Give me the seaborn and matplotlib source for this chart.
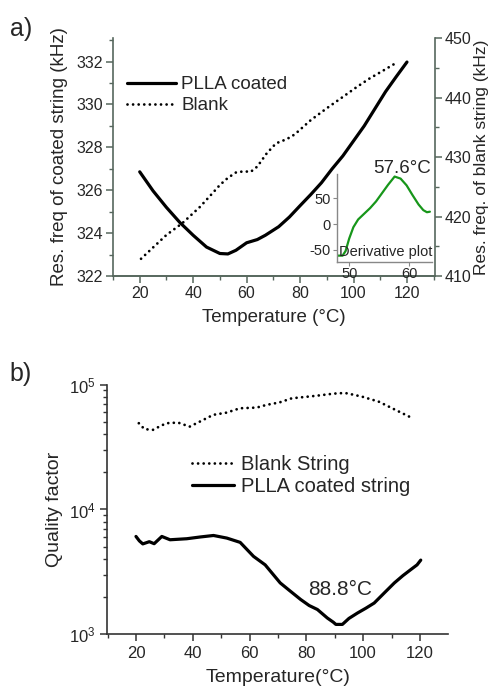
import numpy as np
import matplotlib
matplotlib.use('Agg')
import matplotlib.pyplot as plt
import matplotlib.ticker as mticker
import seaborn as sns

# a) resonance frequency vs temperature
coated_temp = [20, 25, 30, 35, 40, 45, 50, 53, 56, 60, 64, 67, 72, 76, 80, 84, 88, 92,
               96, 100, 104, 108, 112, 116, 120]
coated_freq = [326.86, 325.97, 325.2, 324.5, 323.9, 323.35, 323.05, 323.03, 323.2, 323.55,
               323.7, 323.9, 324.3, 324.75, 325.28, 325.8, 326.35, 327.0, 327.6, 328.3,
               329.0, 329.8, 330.6, 331.3, 331.98]
blank_temp = [20.5, 25, 30, 36, 42.5, 47, 50, 53, 56, 59, 61.5, 64, 67.5, 71, 75, 78, 84,
              90, 96, 101, 106, 111, 115.5]
blank_freq = [412.9, 414.8, 416.9, 418.9, 421.6, 423.8, 425.3, 426.5, 427.4, 427.6, 427.5,
              428.4, 430.6, 432.3, 433.0, 433.8, 436.2, 438.2, 440.1, 441.7, 443.2, 444.5,
              445.7]

# inset: derivative
deriv_temp = [48.0, 48.9, 49.4, 50.0, 50.7, 51.5, 52.5, 53.5, 54.5, 55.5, 56.5, 57.6, 58.6,
              59.6, 60.6, 61.6, 62.4, 63.0, 63.5]
deriv_val = [-61, -61, -52, -28, -6, 9, 20, 31, 44, 60, 76, 92, 88, 75, 56, 38, 27, 23, 24]

# b) quality factor vs temperature
q_blank_temp = [21, 23, 26, 28.5, 30.7, 34.8, 38.9, 42.5, 47.2, 51.9, 56.6, 62.5, 66, 70.5,
                74.9, 79, 83.1, 89, 91.5, 94.3, 99.6, 105.5, 111.4, 116.7]
q_blank = [49100, 44000, 43500, 46500, 49100, 49700, 46100, 50600, 57300, 59700, 64700,
           65500, 68900, 72000, 77800, 79500, 81300, 84400, 85500, 85300, 80200, 73100,
           62800, 54800]
q_coated_temp = [20, 21.2, 22.4, 24.7, 26.4, 27.8, 29.1, 32, 37.9, 42.6, 47.3, 52, 56.7,
                 61.4, 65.5, 70.8, 74, 78, 81, 83.9, 87.4, 89.5, 90.4, 92.7, 95, 98, 101,
                 103.9, 107.5, 111, 114, 116.8, 119, 120.3]
q_coated = [6080, 5600, 5300, 5520, 5320, 5700, 6080, 5720, 5830, 6020, 6190, 5900, 5450,
            4210, 3600, 2580, 2250, 1900, 1700, 1580, 1350, 1250, 1200, 1200, 1340, 1480,
            1620, 1780, 2150, 2580, 2950, 3300, 3600, 3930]

sns.set_style('ticks')
plt.rcParams['font.family'] = ['Liberation Sans', 'DejaVu Sans']
plt.rcParams['mathtext.fontset'] = 'custom'
plt.rcParams['mathtext.rm'] = 'Liberation Sans'
plt.rcParams['axes.unicode_minus'] = False

spine_top = '#56675d'
dotted = (0, (0.01, 2.0))

fig = plt.figure(figsize=(4.9, 6.89), dpi=100)

# ---------- panel a ----------
ax = fig.add_axes([0.2306, 0.5994, 0.6572, 0.3454])
ax2 = ax.twinx()
sns.lineplot(x=coated_temp, y=coated_freq, ax=ax, color='black', linewidth=2.3,
             estimator=None, sort=False)
sns.lineplot(x=blank_temp, y=blank_freq, ax=ax2, color='black', linewidth=2.0,
             linestyle=dotted, dash_capstyle='round', estimator=None, sort=False)
ax.set_xlim(10, 130.5)
ax.set_ylim(322, 333.1)
ax2.set_ylim(410, 450)
ax.set_yticks([322, 324, 326, 328, 330, 332])
ax2.set_yticks([410, 420, 430, 440, 450])
ax.set_xticks([20, 40, 60, 80, 100, 120])
ax.xaxis.set_minor_locator(mticker.MultipleLocator(10))
ax.yaxis.set_minor_locator(mticker.MultipleLocator(1))
ax2.yaxis.set_minor_locator(mticker.MultipleLocator(5))
for a in (ax, ax2):
    a.spines['top'].set_visible(False)
    for s in ('left', 'right', 'bottom'):
        a.spines[s].set_color(spine_top)
        a.spines[s].set_linewidth(1.2)
    a.tick_params(which='major', length=5, width=1.1, color=spine_top, labelsize=11.5,
                  pad=2)
    a.tick_params(which='minor', length=3, width=1.0, color=spine_top)
ax.spines['right'].set_visible(False)
ax2.spines['left'].set_visible(False)
ax.set_xlabel('Temperature (\u00b0C)', fontsize=13.5, labelpad=6)
ax.set_ylabel('Res. freq of coated string (kHz)', fontsize=13.5, labelpad=6)
ax2.set_ylabel('Res. freq. of blank string (kHz)', fontsize=12.5, labelpad=2)
h1 = ax.get_lines()[0]
h2 = ax2.get_lines()[0]
ax.legend([h1, h2], ['PLLA coated', 'Blank'], loc='upper left',
          bbox_to_anchor=(0.043, 0.84), frameon=False, fontsize=13.5, borderpad=0,
          borderaxespad=0, handlelength=2.6, handletextpad=0.3, labelspacing=0.2)
fig.text(0.02, 0.975, 'a)', fontsize=18, va='top')

# inset
axi = fig.add_axes([0.687, 0.6202, 0.194, 0.1273])
axi.patch.set_alpha(0)
sns.lineplot(x=deriv_temp, y=deriv_val, ax=axi, color='#17961a', linewidth=1.6,
             estimator=None, sort=False)
axi.set_xlim(47.9, 63.8)
axi.set_ylim(-72.7, 97)
axi.set_xticks([50, 60])
axi.set_yticks([-50, 0, 50])
for s in ('top', 'right'):
    axi.spines[s].set_visible(False)
for s in ('left', 'bottom'):
    axi.spines[s].set_color('#888888')
    axi.spines[s].set_linewidth(1.0)
axi.tick_params(length=3, width=0.8, color='#888888', labelsize=10.5, pad=1)
axi.text(1.01, 0.03, 'Derivative plot', transform=axi.transAxes, ha='right',
         va='bottom', fontsize=10.5)
axi.text(0.69, 0.97, '57.6\u00b0C', transform=axi.transAxes, ha='center',
         va='bottom', fontsize=13.5)

# ---------- panel b ----------
bx = fig.add_axes([0.219, 0.0794, 0.6953, 0.3623])
sns.lineplot(x=q_blank_temp, y=q_blank, ax=bx, color='black', linewidth=2.0,
             linestyle=dotted, dash_capstyle='round', estimator=None, sort=False)
sns.lineplot(x=q_coated_temp, y=q_coated, ax=bx, color='black', linewidth=2.3,
             estimator=None, sort=False)
bx.set_yscale('log')
bx.set_ylim(1e3, 1e5)
bx.set_xlim(9.9, 129.9)
bx.set_xticks([20, 40, 60, 80, 100, 120])
bx.xaxis.set_minor_locator(mticker.MultipleLocator(10))
for s in ('top', 'right'):
    bx.spines[s].set_visible(False)
for s in ('left', 'bottom'):
    bx.spines[s].set_color('#333333')
    bx.spines[s].set_linewidth(1.2)
bx.tick_params(which='major', length=5, width=1.1, color='#333333', labelsize=12)
bx.tick_params(which='minor', length=3, width=1.0, color='#333333')
bx.set_xlabel('Temperature(\u00b0C)', fontsize=14, labelpad=6)
bx.set_ylabel('Quality factor', fontsize=14, labelpad=4)
hb = bx.get_lines()
bx.legend([hb[0], hb[1]], ['Blank String', 'PLLA coated string'], loc='upper left',
          bbox_to_anchor=(0.248, 0.72), frameon=False, fontsize=14.5, borderpad=0,
          borderaxespad=0, handlelength=2.1, handletextpad=0.35, labelspacing=0.15)
bx.text(92, 2300, '88.8\u00b0C', ha='center', va='center', fontsize=15)
fig.text(0.02, 0.475, 'b)', fontsize=18, va='top')

fig.savefig('out.png', dpi=100)
